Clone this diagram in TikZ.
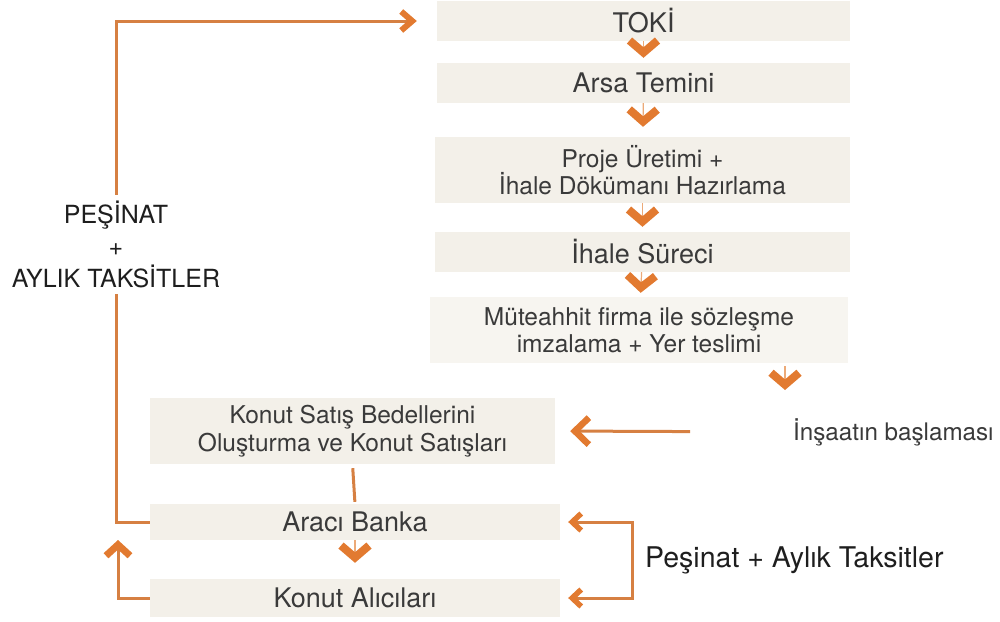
\documentclass[tikz,border=0pt]{standalone}
\usepackage{fontspec}
\setmainfont{TeX Gyre Heros}
\usetikzlibrary{arrows.meta}
\definecolor{org}{RGB}{226,122,48}
\definecolor{orgline}{RGB}{214,128,66}
\definecolor{orgpale}{RGB}{236,170,120}
\definecolor{boxfill}{RGB}{243,240,233}
\definecolor{boxfade}{RGB}{247,245,240}
\definecolor{txt}{RGB}{58,58,58}
\definecolor{dark}{RGB}{30,30,30}
\begin{document}
\begin{tikzpicture}[x=1pt,y=-1pt,
  box/.style={fill=boxfill, inner sep=0pt, text=txt, align=center},
  bigtext/.style={font=\fontsize{27}{32}\selectfont},
  midtext/.style={font=\fontsize{24.5}{27.5}\selectfont},
  chev/.style={draw=orgpale, line width=1.2pt, -{Straight Barb[sharp, length=12pt,width=28pt,line width=8pt,color=org]}},
  flowline/.style={draw=orgline, line width=3pt},
  toparrow/.style={flowline, -{Straight Barb[sharp, length=11pt,width=19pt,line width=6pt,color=org]}},
  leftarrow/.style={flowline, -{Straight Barb[sharp, length=14pt,width=27pt,line width=6.5pt,color=org]}},
  uparrow/.style={flowline, -{Straight Barb[sharp, length=11pt,width=24pt,line width=7pt,color=org]}},
  bracket/.style={flowline, {Straight Barb[sharp, length=9pt,width=17pt,line width=5.5pt,color=org]}-{Straight Barb[sharp, length=9pt,width=17pt,line width=5.5pt,color=org]}},
  lbl/.style={fill=white, inner xsep=2pt, inner ysep=6pt, align=center, text=dark}
]
\useasboundingbox (0,0) rectangle (1000,621);

% right column
\node[box, bigtext, minimum width=413pt, minimum height=40pt] (toki) at (643.5,21) {TOKİ};
\node[box, bigtext, minimum width=413pt, minimum height=40pt] (arsa) at (643.5,83) {Arsa Temini};
\node[box, midtext, minimum width=415pt, minimum height=66pt] (proje) at (642.5,170) {Proje Üretimi +\\İhale Dökümanı Hazırlama};
\node[box, bigtext, minimum width=415pt, minimum height=40pt] (ihale) at (642.5,252) {İhale Süreci};
\node[box, midtext, fill=boxfade, minimum width=418pt, minimum height=66pt] (mut) at (639,330) {Müteahhit firma ile sözleşme\\imzalama + Yer teslimi};

% left column
\node[box, midtext, minimum width=405pt, minimum height=66pt] (satis) at (352.5,431) {Konut Satış Bedellerini\\Oluşturma ve Konut Satışları};
\node[box, bigtext, minimum width=410pt, minimum height=36pt] (banka) at (355,522) {Aracı Banka};
\node[box, bigtext, minimum width=410pt, minimum height=38pt] (alici) at (355,598) {Konut Alıcıları};

% free texts
\node[anchor=west, inner sep=0pt, text=txt, font=\fontsize{24.2}{28}\selectfont] (insaat) at (793,432) {İnşaatın başlaması};
\node[anchor=west, inner sep=0pt, text=dark, font=\fontsize{28.5}{32}\selectfont] (pes2) at (645,560) {Peşinat + Aylık Taksitler};

% coordinates
\coordinate (lx) at (116,0);
\coordinate (ul) at (118,540);
\coordinate (br) at (632,560);
\coordinate (c5a) at (785,366);
\coordinate (c5b) at (785,390);

% chevrons down
\draw[chev, shorten >=5pt] (toki) -- (arsa);
\draw[chev, shorten >=10pt] (arsa) -- (proje);
\draw[chev, shorten >=5pt] (proje) -- (ihale);
\draw[chev, shorten >=4pt] (ihale) -- (mut);
\draw[chev] (c5a) -- (c5b);
\draw[chev, shorten >=16pt] (banka) -- (alici);

% construction start -> sales
\draw[leftarrow, shorten <=103pt, shorten >=15pt] (insaat.west) -- (satis.east);

% sales -> bank
\draw[flowline, shorten <=4pt, shorten >=2pt] (satis.south) -- (banka.north);

% bank -> TOKI (payments)
\draw[toparrow, shorten >=20pt] (banka.west) -- (banka.west -| lx) -- (toki.west -| lx) -- (toki.west);
\node[lbl, font=\fontsize{25}{32}\selectfont] (pes1) at (116,244) {PEŞİNAT\\+\\AYLIK TAKSİTLER};

% buyers -> bank
\draw[uparrow] (alici.west) -| (ul);

% right bracket
\draw[bracket, shorten <=8pt, shorten >=8pt] (banka.east) -- (banka.east -| br) -- (alici.east -| br) -- (alici.east);
\end{tikzpicture}
\end{document}
